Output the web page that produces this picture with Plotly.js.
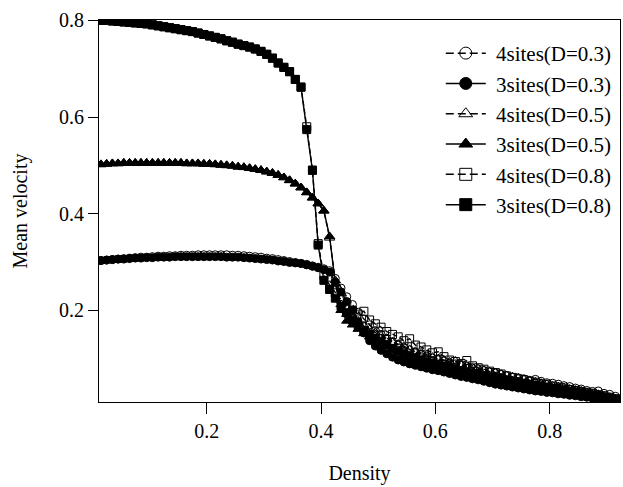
<!DOCTYPE html>
<html>
<head>
<meta charset="utf-8">
<script src="https://cdn.plot.ly/plotly-3.0.1.min.js"></script>
<style>
html,body{margin:0;padding:0;background:#fff;font-family:'Liberation Serif';}
#chart{width:623px;height:487px;}
#chart svg text{font-family:'Liberation Serif' !important;}
</style>
</head>
<body>
<div id="chart"></div>
<script>
// Density values (x)
var density = [0.015,0.025,0.035,0.045,0.055,0.065,0.075,0.085,0.095,0.105,
0.115,0.125,0.135,0.145,0.155,0.165,0.175,0.185,0.195,0.205,
0.215,0.225,0.235,0.245,0.255,0.265,0.275,0.285,0.295,0.305,
0.315,0.325,0.335,0.345,0.355,0.365,0.375,0.385,0.395,0.405,
0.415,0.425,0.435,0.445,0.455,0.465,0.475,0.485,0.495,0.505,
0.515,0.525,0.535,0.545,0.555,0.565,0.575,0.585,0.595,0.605,
0.615,0.625,0.635,0.645,0.655,0.665,0.675,0.685,0.695,0.705,
0.715,0.725,0.735,0.745,0.755,0.765,0.775,0.785,0.795,0.805,
0.815,0.825,0.835,0.845,0.855,0.865,0.875,0.885,0.895,0.905,
0.915,0.925];

var v4sites_D03 = [.303,.304,.305,.306,.307,.308,.309,.310,.310,.311,
.312,.312,.313,.313,.314,.314,.314,.315,.315,.315,
.315,.315,.315,.314,.314,.313,.312,.311,.310,.308,
.307,.305,.303,.301,.299,.297,.295,.292,.289,.286,
.282,.266,.246,.228,.212,.196,.182,.170,.158,.150,
.142,.135,.128,.123,.118,.113,.109,.105,.101,.098,
.095,.091,.089,.086,.083,.080,.077,.075,.072,.070,
.067,.065,.062,.060,.058,.055,.057,.053,.050,.049,
.047,.044,.042,.039,.037,.034,.032,.033,.028,.026,
.022,.017];

var v3sites_D03 = [.303,.304,.305,.306,.306,.307,.308,.308,.309,.309,
.310,.310,.310,.311,.311,.311,.311,.311,.311,.311,
.311,.311,.310,.310,.310,.309,.308,.307,.306,.305,
.304,.302,.301,.299,.298,.297,.294,.291,.288,.284,
.279,.258,.238,.218,.200,.176,.153,.137,.126,.117,
.110,.103,.097,.093,.089,.086,.083,.080,.077,.075,
.072,.069,.066,.063,.061,.058,.056,.053,.050,.047,
.045,.043,.041,.039,.037,.035,.033,.032,.030,.029,
.027,.026,.024,.023,.021,.020,.018,.017,.016,.014,
.013,.011];

var v4sites_D05 = [.502,.503,.504,.504,.505,.505,.505,.505,.505,.505,
.505,.505,.505,.505,.505,.504,.504,.504,.503,.503,
.502,.501,.500,.499,.497,.496,.494,.492,.490,.487,
.484,.480,.475,.469,.462,.454,.444,.433,.421,.406,
.350,.262,.212,.192,.182,.176,.168,.160,.154,.147,
.142,.134,.130,.126,.119,.115,.112,.108,.103,.100,
.097,.093,.095,.088,.085,.082,.080,.076,.073,.071,
.068,.065,.062,.060,.057,.054,.052,.049,.047,.044,
.042,.040,.037,.035,.033,.030,.028,.026,.023,.020,
.017,.014];

var v3sites_D05 = [.502,.503,.504,.504,.505,.505,.505,.505,.505,.505,
.505,.505,.505,.505,.505,.504,.504,.504,.503,.503,
.502,.501,.500,.499,.497,.496,.494,.492,.490,.487,
.484,.480,.475,.469,.462,.454,.444,.433,.421,.406,
.353,.255,.200,.178,.170,.161,.152,.145,.138,.131,
.125,.119,.113,.108,.104,.100,.096,.093,.090,.087,
.084,.081,.078,.075,.073,.070,.068,.065,.063,.060,
.058,.056,.053,.051,.049,.047,.045,.043,.041,.039,
.037,.035,.033,.031,.029,.027,.025,.023,.021,.019,
.016,.013];

var v4sites_D08 = [.800,.800,.799,.798,.797,.796,.795,.794,.793,.791,
.789,.787,.785,.783,.781,.779,.777,.774,.771,.768,
.765,.762,.758,.755,.751,.748,.745,.741,.736,.730,
.722,.712,.703,.694,.678,.662,.580,.490,.338,.272,
.252,.236,.222,.210,.200,.192,.198,.180,.172,.165,
.156,.150,.145,.137,.141,.128,.124,.118,.112,.114,
.104,.097,.094,.090,.096,.085,.081,.078,.074,.071,
.068,.064,.061,.058,.056,.053,.051,.048,.046,.043,
.041,.039,.036,.034,.032,.030,.028,.025,.023,.020,
.017,.014];

var v3sites_D08 = [.800,.800,.799,.798,.797,.796,.795,.794,.793,.791,
.789,.787,.785,.783,.781,.779,.777,.774,.771,.768,
.765,.762,.758,.755,.751,.748,.745,.741,.736,.730,
.722,.712,.703,.694,.678,.662,.574,.490,.335,.262,
.243,.225,.208,.195,.180,.168,.158,.150,.142,.135,
.128,.121,.115,.110,.105,.101,.097,.093,.090,.087,
.084,.081,.078,.075,.072,.069,.067,.064,.062,.059,
.057,.055,.052,.050,.048,.046,.044,.042,.040,.038,
.036,.034,.032,.030,.028,.026,.024,.022,.020,.018,
.015,.012];

var seriesNames = ['4sites(D=0.3)','3sites(D=0.3)','4sites(D=0.5)','3sites(D=0.5)','4sites(D=0.8)','3sites(D=0.8)'];
var seriesValues = [v4sites_D03, v3sites_D03, v4sites_D05, v3sites_D05, v4sites_D08, v3sites_D08];
var symbols = ['circle-open','circle','triangle-up-open','triangle-up','square-open','square'];
var sizes = [8,8,9,9,8,8];
var dashes = ['5px,3px','solid','5px,3px','solid','5px,3px','solid'];

var traces = [];
for (var i = 0; i < seriesNames.length; i++) {
  traces.push({
    x: density, y: seriesValues[i], type: 'scatter', mode: 'lines+markers',
    name: seriesNames[i], showlegend: false,
    line: {color: '#000', width: 1.4, dash: dashes[i]},
    marker: {symbol: symbols[i], size: sizes[i], color: '#000', line: {color: '#000', width: 1}}
  });
}
// legend entries (larger symbols, no data)
for (var j = 0; j < seriesNames.length; j++) {
  traces.push({
    x: [null], y: [null], type: 'scatter', mode: 'lines+markers',
    name: '\u00a0' + seriesNames[j], legendgroup: 'g' + j, showlegend: true,
    line: {color: '#000', width: 1.5, dash: dashes[j] === 'solid' ? 'solid' : '8px,4px'},
    marker: {symbol: symbols[j], size: 12, color: '#000', line: {color: '#000', width: 1}}
  });
}

var fontFam = 'Liberation Serif';
var layout = {
  width: 623, height: 487,
  margin: {l: 99, r: 3, t: 20, b: 85},
  paper_bgcolor: '#fff', plot_bgcolor: '#fff',
  font: {family: fontFam, size: 20, color: '#000'},
  showlegend: true,
  legend: {x: 0.656, y: 0.966, xanchor: 'left', yanchor: 'top', bgcolor: 'rgba(0,0,0,0)',
           borderwidth: 0, font: {family: fontFam, size: 21, color: '#000'},
           tracegroupgap: 2, itemwidth: 40, traceorder: 'normal'},
  xaxis: {
    range: [0.0116, 0.923], tick0: 0, dtick: 0.2, ticks: 'outside', ticklen: 11, tickwidth: 1,
    tickcolor: '#000', showline: true, linecolor: '#000', linewidth: 1, mirror: true,
    showgrid: false, zeroline: false, tickfont: {family: fontFam, size: 20},
    title: {text: 'Density', font: {family: fontFam, size: 20}, standoff: 24}
  },
  yaxis: {
    range: [0.0101, 0.801], tick0: 0, dtick: 0.2, ticks: 'outside', ticklen: 10, tickwidth: 1,
    tickcolor: '#000', showline: true, linecolor: '#000', linewidth: 1, mirror: true,
    showgrid: false, zeroline: false, tickfont: {family: fontFam, size: 20},
    title: {text: 'Mean velocity', font: {family: fontFam, size: 20}, standoff: 26}
  }
};

Plotly.newPlot('chart', traces, layout, {displayModeBar: false});
</script>
</body>
</html>
